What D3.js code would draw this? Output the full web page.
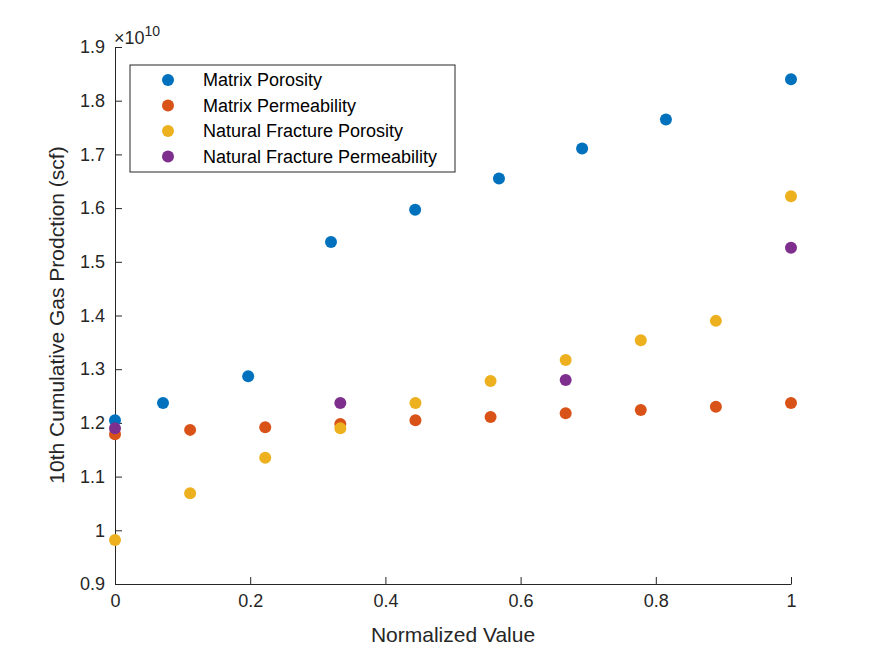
<!DOCTYPE html>
<html><head><meta charset="utf-8">
<script src="https://cdn.jsdelivr.net/npm/d3@7"></script>
<style>body{margin:0;background:#fff}text{font-family:"Liberation Sans",Arial,sans-serif}</style>
</head><body><svg id="chart" width="875" height="656"></svg>
<script>
// values in units of 1e10 scf
var mpX = [0, 0.071, 0.197, 0.3195, 0.444, 0.568, 0.691, 0.815, 1];
var mpY = [1.205, 1.237, 1.287, 1.537, 1.597, 1.655, 1.711, 1.765, 1.840];
var nineX = [0, 1/9, 2/9, 3/9, 4/9, 5/9, 6/9, 7/9, 8/9, 1];
var mkY = [1.179, 1.187, 1.192, 1.198, 1.205, 1.211, 1.218, 1.224, 1.230, 1.237];
var nfpY = [0.982, 1.069, 1.135, 1.190, 1.237, 1.278, 1.317, 1.354, 1.390, 1.622];
var nfkX = [0, 1/3, 2/3, 1];
var nfkY = [1.190, 1.237, 1.280, 1.526];
var seriesNames = ["Matrix Porosity", "Matrix Permeability", "Natural Fracture Porosity", "Natural Fracture Permeability"];
var colors = ["#0072BD", "#D95319", "#EDB120", "#7E2F8E"];
var xTicks = [0, 0.2, 0.4, 0.6, 0.8, 1];
var yTicks = [0.9, 1, 1.1, 1.2, 1.3, 1.4, 1.5, 1.6, 1.7, 1.8, 1.9];

var svg = d3.select("#chart");
var x = d3.scaleLinear().domain([0, 1]).range([115, 791]);
var y = d3.scaleLinear().domain([0.9, 1.9]).range([584, 47]);

var xAxis = svg.append("g").attr("transform", "translate(0,584)")
  .call(d3.axisBottom(x).tickValues(xTicks).tickSizeInner(-7).tickSizeOuter(0).tickPadding(10).tickFormat(d3.format("")));
var yAxis = svg.append("g").attr("transform", "translate(115,0)")
  .call(d3.axisLeft(y).tickValues(yTicks).tickSizeInner(-7).tickSizeOuter(0).tickPadding(10).tickFormat(d3.format(".1f")));
yAxis.selectAll("text").text(function (d) { return d === 1 ? "1" : d3.format(".1f")(d); });
[xAxis, yAxis].forEach(function (a) {
  a.attr("font-size", null).attr("font-family", null);
  a.selectAll("path,line").attr("stroke", "#262626");
  a.selectAll("text").attr("fill", "#262626").style("font-size", "18px");
});

svg.append("text").attr("x", 114).attr("y", 44).attr("fill", "#262626").style("font-size", "18px")
  .text("\u00d710").append("tspan").attr("dy", -8).style("font-size", "14px").text("10");

svg.append("text").attr("x", 453).attr("y", 642).attr("text-anchor", "middle")
  .attr("fill", "#262626").style("font-size", "21px").text("Normalized Value");
svg.append("text").attr("transform", "translate(64,315) rotate(-90)").attr("text-anchor", "middle")
  .attr("fill", "#262626").style("font-size", "21px").text("10th Cumulative Gas Prodction (scf)");

var sets = [[mpX, mpY], [nineX, mkY], [nineX, nfpY], [nfkX, nfkY]];
sets.forEach(function (s, i) {
  svg.append("g").selectAll("circle").data(s[0]).enter().append("circle")
    .attr("cx", function (d) { return x(d); })
    .attr("cy", function (d, j) { return y(s[1][j]); })
    .attr("r", 6).attr("fill", colors[i]);
});

var lg = svg.append("g");
lg.append("rect").attr("x", 130).attr("y", 65).attr("width", 325).attr("height", 107)
  .attr("fill", "#fff").attr("stroke", "#262626").attr("stroke-width", 1);
seriesNames.forEach(function (n, i) {
  var yy = 80 + i * 25.5;
  lg.append("circle").attr("cx", 168).attr("cy", yy).attr("r", 6).attr("fill", colors[i]);
  lg.append("text").attr("x", 203).attr("y", yy + 6).attr("fill", "#000").style("font-size", "18px").text(n);
});
</script></body></html>
